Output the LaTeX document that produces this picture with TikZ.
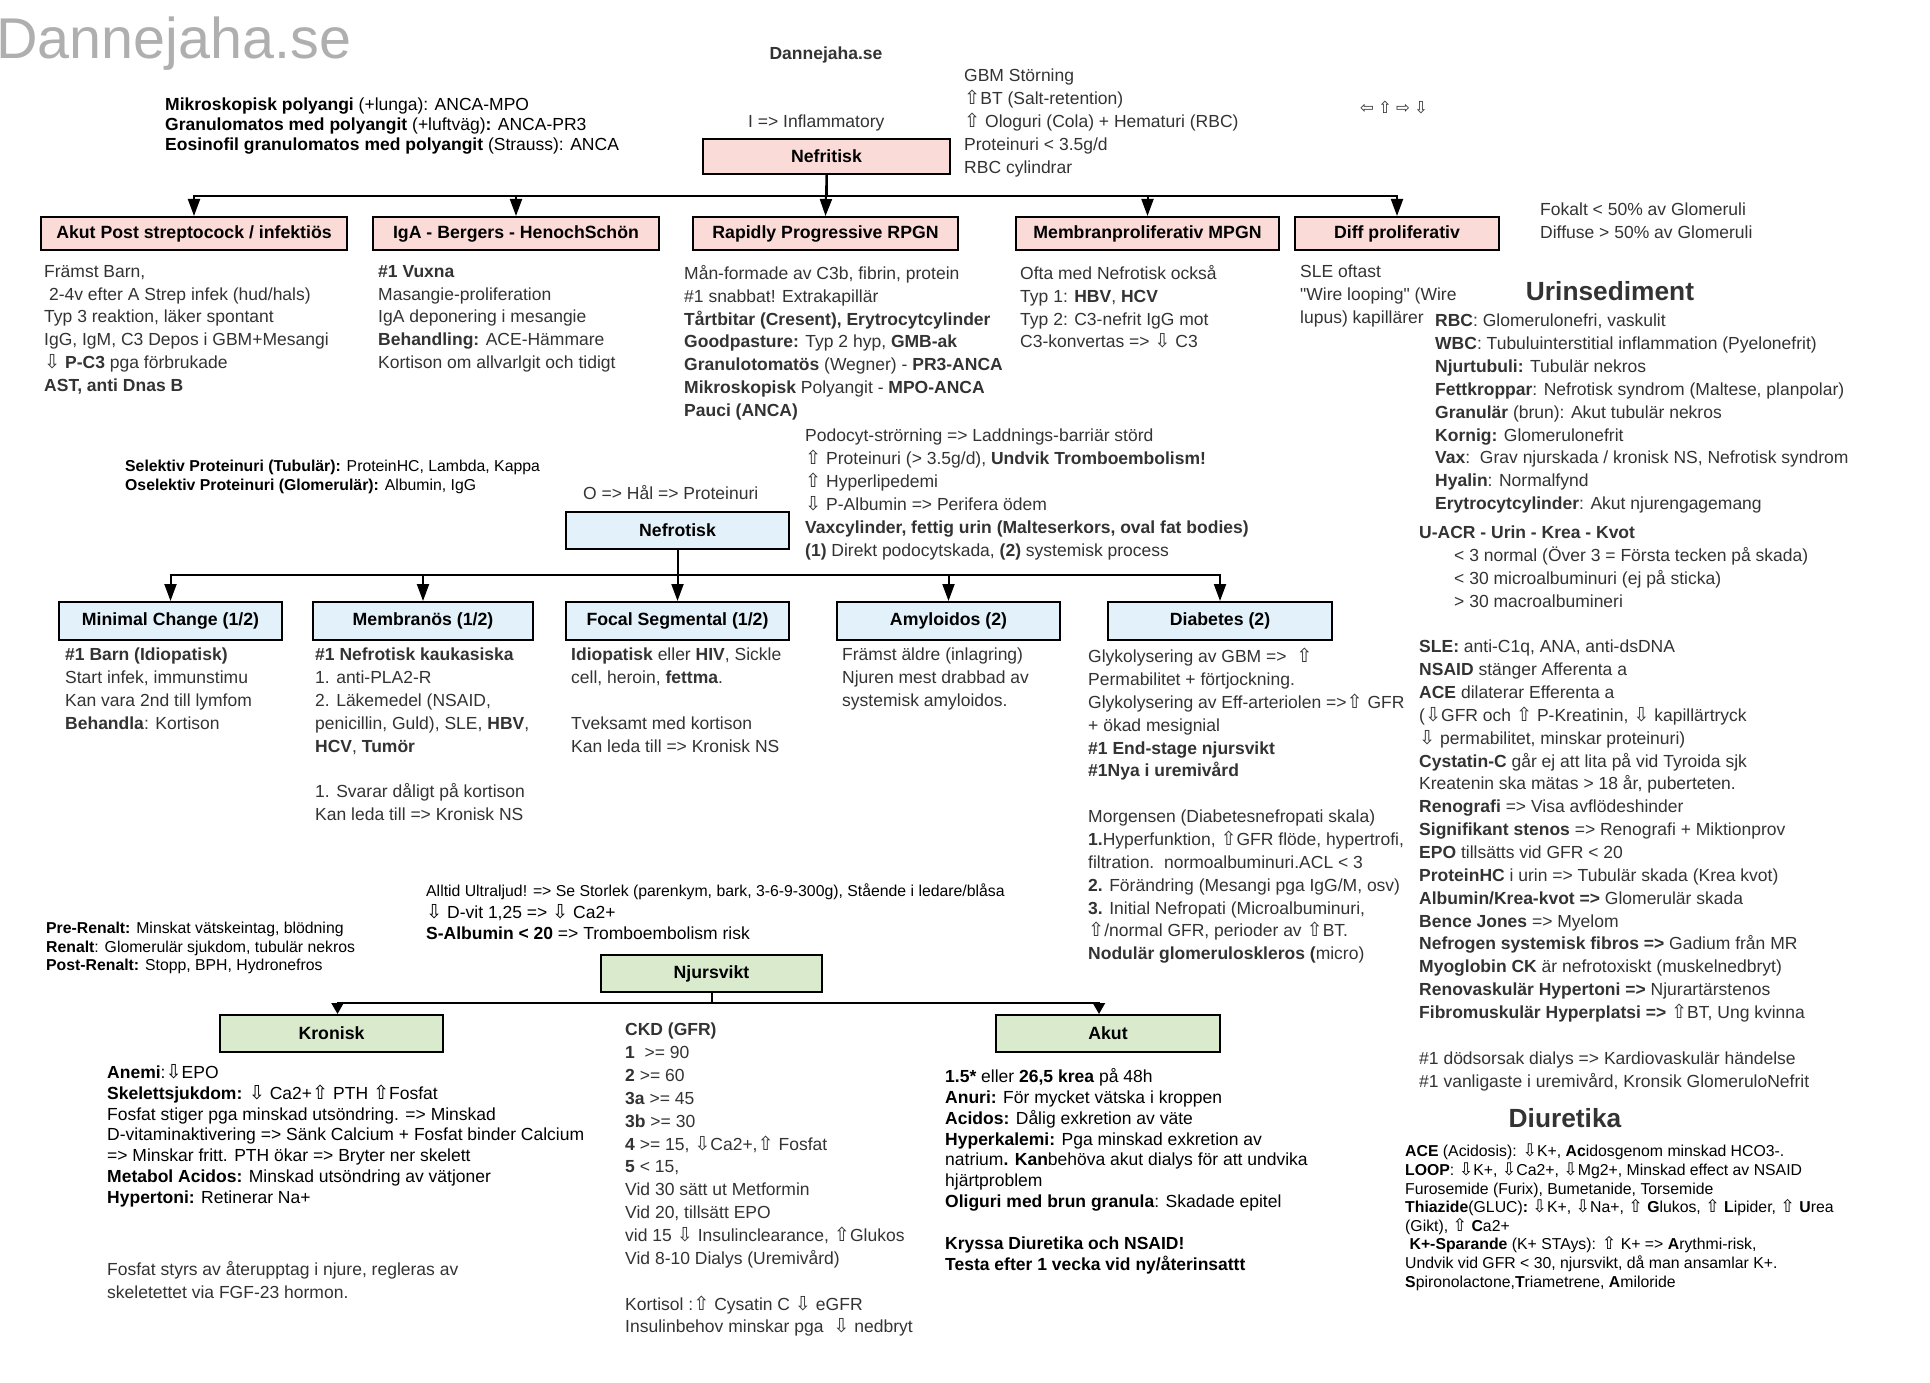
\documentclass[tikz,border=0pt]{standalone}
\usepackage{fontspec}
\setmainfont{Liberation Sans}
\newfontfamily\symf{DejaVu Sans}[Scale=1.1]
\newfontfamily\qf{Liberation Sans}[Ligatures=ResetAll]
\usetikzlibrary{arrows.meta}
\definecolor{txt}{HTML}{333333}
\definecolor{pinkf}{HTML}{FADBD8}
\definecolor{bluef}{HTML}{E3F1FA}
\definecolor{greenf}{HTML}{D9EBCC}
\definecolor{wmark}{HTML}{AFAFAF}
\newcommand\ArU{{\symf ⇧}}
\newcommand\ArD{{\symf ⇩}}
\newcommand\ArL{{\symf ⇦}}
\newcommand\ArR{{\symf ⇨}}
\newcommand\dq{{\qf\symbol{34}}}
\tikzset{
  hbox/.style={draw=black, line width=2pt, inner sep=0pt, text=black,
    font=\bfseries\fontsize{17.7}{21}\selectfont},
  pinkb/.style={hbox, fill=pinkf},
  blueb/.style={hbox, fill=bluef},
  greenb/.style={hbox, fill=greenf},
  body/.style={anchor=north west, align=left, inner sep=0pt, text=txt,
    font=\fontsize{17.5}{22.85}\selectfont},
  bodyk/.style={anchor=north west, align=left, inner sep=0pt, text=black,
    font=\fontsize{17.5}{20.9}\selectfont},
  small/.style={anchor=north west, align=left, inner sep=0pt, text=black,
    font=\fontsize{15.8}{18.6}\selectfont},
  single/.style={anchor=base west, inner sep=0pt, text=txt,
    font=\fontsize{17.5}{21}\selectfont},
  bigtitle/.style={anchor=base, inner sep=0pt, text=txt,
    font=\bfseries\fontsize{26.3}{30}\selectfont},
  arr/.style={line width=2pt, -{Triangle[length=17pt,width=12pt]}},
  arrs/.style={line width=2pt, -{Triangle[length=11pt,width=12pt]}},
}
\begin{document}
\begin{tikzpicture}[x=1pt,y=-1pt]
\fill[white] (0,0) rectangle (1930,1383);
\useasboundingbox (0,0) rectangle (1930,1383);

% ---------- header ----------
\node[anchor=base west, inner sep=0pt, text=wmark, font=\fontsize{57.5}{62}\selectfont] (wm) at (-4,59) {Dannejaha.se};
\node[anchor=base, inner sep=0pt, text=txt, font=\bfseries\fontsize{17.5}{21}\selectfont] (site) at (826,60) {Dannejaha.se};
\node[anchor=north west, align=left, inner sep=0pt, text=black, font=\fontsize{17.5}{19.7}\selectfont] (mikro) at (165,98) {%
\textbf{Mikroskopisk polyangi} (+lunga): ANCA-MPO\\
\textbf{Granulomatos med polyangit} (+luftväg)\textbf{:} ANCA-PR3\\
\textbf{Eosinofil granulomatos med polyangit} (Strauss): ANCA};
\node[single] (infl) at (748,128) {I => Inflammatory};
\node[body] (gbm) at (964,69) {%
GBM Störning\\
\ArU BT (Salt-retention)\\
\ArU\ Ologuri (Cola) + Hematuri (RBC)\\
Proteinuri < 3.5g/d\\
RBC cylindrar};
\node[anchor=base west, inner sep=0pt, text=txt, font=\fontsize{15}{18}\selectfont] (arrs) at (1360,114) {\ArL\ \ArU\ \ArR\ \ArD};

% ---------- Nefritisk ----------
\node[pinkb, minimum width=247pt, minimum height=35pt] (nefritisk) at (826.5,156.5) {Nefritisk};
\coordinate (nfbus) at (0,196);
\node[pinkb, minimum width=306pt, minimum height=33pt] (akutpost) at (194,233.5) {Akut Post streptocock / infektiös};
\node[pinkb, minimum width=286pt, minimum height=33pt] (iga) at (516,233.5) {IgA - Bergers - HenochSchön};
\node[pinkb, minimum width=265pt, minimum height=33pt] (rpgn) at (825.5,233.5) {Rapidly Progressive RPGN};
\node[pinkb, minimum width=263pt, minimum height=33pt] (mpgn) at (1147.5,233.5) {Membranproliferativ MPGN};
\node[pinkb, minimum width=204pt, minimum height=33pt] (diff) at (1397,233.5) {Diff proliferativ};
\foreach \c in {akutpost,iga,mpgn,diff}
  \draw[arr] (nefritisk.south) |- (\c.north |- nfbus) -- (\c.north);
\draw[arr] (nefritisk.south) -- (rpgn.north);

\node[body] (fokalt) at (1540,203) {Fokalt < 50\% av Glomeruli\\Diffuse > 50\% av Glomeruli};

\node[body] (akutpostt) at (44,265) {%
Främst Barn,\\
\ 2-4v efter A Strep infek (hud/hals)\\
Typ 3 reaktion, läker spontant\\
IgG, IgM, C3 Depos i GBM+Mesangi\\
\ArD\ \textbf{P-C3} pga förbrukade\\
\textbf{AST, anti Dnas B}};
\node[body] (igat) at (378,265) {%
\textbf{\#1 Vuxna}\\
Masangie-proliferation\\
IgA deponering i mesangie\\
\textbf{Behandling:} ACE-Hämmare\\
Kortison om allvarlgit och tidigt};
\node[body] (rpgnt) at (684,265) {%
Mån-formade av C3b, fibrin, protein\\
\#1 snabbat! Extrakapillär\\
\textbf{Tårtbitar (Cresent), Erytrocytcylinder}\\
\textbf{Goodpasture:} Typ 2 hyp, \textbf{GMB-ak}\\
\textbf{Granulotomatös} (Wegner) - \textbf{PR3-ANCA}\\
\textbf{Mikroskopisk} Polyangit - \textbf{MPO-ANCA}\\
\textbf{Pauci (ANCA)}};
\node[body] (mpgnt) at (1020,265) {%
Ofta med Nefrotisk också\\
Typ 1: \textbf{HBV}, \textbf{HCV}\\
Typ 2: C3-nefrit IgG mot\\
C3-konvertas => \ArD\ C3};
\node[body] (difft) at (1300,265) {%
SLE oftast\\
\dq Wire looping\dq\ (Wire\\
lupus) kapillärer};

% ---------- right column ----------
\node[bigtitle] (urintitle) at (1610,300) {Urinsediment};
\node[body] (urin) at (1435,314) {%
\textbf{RBC}: Glomerulonefri, vaskulit\\
\textbf{WBC}: Tubuluinterstitial inflammation (Pyelonefrit)\\
\textbf{Njurtubuli:} Tubulär nekros\\
\textbf{Fettkroppar}: Nefrotisk syndrom (Maltese, planpolar)\\
\textbf{Granulär} (brun): Akut tubulär nekros\\
\textbf{Kornig:} Glomerulonefrit\\
\textbf{Vax}:\ \ Grav njurskada / kronisk NS, Nefrotisk syndrom\\
\textbf{Hyalin}: Normalfynd\\
\textbf{Erytrocytcylinder}: Akut njurengagemang};
\node[body] (uacr) at (1419,526) {%
\textbf{U-ACR - Urin - Krea - Kvot}\\
\hspace*{35pt}< 3 normal (Över 3 = Första tecken på skada)\\
\hspace*{35pt}< 30 microalbuminuri (ej på sticka)\\
\hspace*{35pt}> 30 macroalbumineri};
\node[body] (sle) at (1419,640) {%
\textbf{SLE:} anti-C1q, ANA, anti-dsDNA\\
\textbf{NSAID} stänger Afferenta a\\
\textbf{ACE} dilaterar Efferenta a\\
(\ArD GFR och \ArU\ P-Kreatinin, \ArD\ kapillärtryck\\
\ArD\ permabilitet, minskar proteinuri)\\
\textbf{Cystatin-C} går ej att lita på vid Tyroida sjk\\
Kreatenin ska mätas > 18 år, puberteten.\\
\textbf{Renografi} => Visa avflödeshinder\\
\textbf{Signifikant stenos} => Renografi + Miktionprov\\
\textbf{EPO} tillsätts vid GFR < 20\\
\textbf{ProteinHC} i urin => Tubulär skada (Krea kvot)\\
\textbf{Albumin/Krea-kvot =>} Glomerulär skada\\
\textbf{Bence Jones} => Myelom\\
\textbf{Nefrogen systemisk fibros =>} Gadium från MR\\
\textbf{Myoglobin CK} är nefrotoxiskt (muskelnedbryt)\\
\textbf{Renovaskulär Hypertoni =>} Njurartärstenos\\
\textbf{Fibromuskulär Hyperplatsi =>} \ArU BT, Ung kvinna};
\node[body] (dods) at (1419,1052) {%
\#1 dödsorsak dialys => Kardiovaskulär händelse\\
\#1 vanligaste i uremivård, Kronsik GlomeruloNefrit};
\node[bigtitle] (diurtitle) at (1565,1127) {Diuretika};
\node[small] (diur) at (1405,1144) {%
\textbf{ACE} (Acidosis): \ArD K+, \textbf{Ac}idosgenom minskad HCO3-.\\
\textbf{LOOP}: \ArD K+, \ArD Ca2+, \ArD Mg2+, Minskad effect av NSAID\\
Furosemide (Furix), Bumetanide, Torsemide\\
\textbf{Thiazide}(GLUC)\textbf{:} \ArD K+, \ArD Na+, \ArU\ \textbf{G}lukos, \ArU\ \textbf{L}ipider, \ArU\ \textbf{U}rea\\
(Gikt), \ArU\ \textbf{C}a2+\\
\ \textbf{K+-Sparande} (K+ STAys): \ArU\ K+ => \textbf{A}rythmi-risk,\\
Undvik vid GFR < 30, njursvikt, då man ansamlar K+.\\
\textbf{S}pironolactone,\textbf{T}riametrene, \textbf{A}miloride};

% ---------- Nefrotisk ----------
\node[small] (selektiv) at (125,460) {%
\textbf{Selektiv Proteinuri (Tubulär):} ProteinHC, Lambda, Kappa\\
\textbf{Oselektiv Proteinuri (Glomerulär):} Albumin, IgG};
\node[single] (hal) at (583,499) {O => Hål => Proteinuri};
\node[body] (podocyt) at (805,429) {%
Podocyt-strörning => Laddnings-barriär störd\\
\ArU\ Proteinuri (> 3.5g/d), \textbf{Undvik Tromboembolism!}\\
\ArU\ Hyperlipedemi\\
\ArD\ P-Albumin => Perifera ödem\\
\textbf{Vaxcylinder, fettig urin (Malteserkors, oval fat bodies)}\\
\textbf{(1)} Direkt podocytskada, \textbf{(2)} systemisk process};
\node[blueb, minimum width=223pt, minimum height=37pt] (nefrotisk) at (677.5,530.5) {Nefrotisk};
\coordinate (nebus) at (0,575);
\node[blueb, minimum width=223pt, minimum height=38pt] (minimal) at (170.5,621) {Minimal Change (1/2)};
\node[blueb, minimum width=220pt, minimum height=38pt] (membranos) at (423,621) {Membranös (1/2)};
\node[blueb, minimum width=223pt, minimum height=38pt] (focal) at (677.5,621) {Focal Segmental (1/2)};
\node[blueb, minimum width=223pt, minimum height=38pt] (amyloidos) at (948.5,621) {Amyloidos (2)};
\node[blueb, minimum width=224pt, minimum height=38pt] (diabetes) at (1220,621) {Diabetes (2)};
\foreach \c in {minimal,membranos,amyloidos,diabetes}
  \draw[arr] (nefrotisk.south) |- (\c.north |- nebus) -- (\c.north);
\draw[arr] (nefrotisk.south) -- (focal.north);

\node[body] (minimalt) at (65,648) {%
\textbf{\#1 Barn (Idiopatisk)}\\
Start infek, immunstimu\\
Kan vara 2nd till lymfom\\
\textbf{Behandla}: Kortison};
\node[body] (membranost) at (315,648) {%
\textbf{\#1 Nefrotisk kaukasiska}\\
1. anti-PLA2-R\\
2. Läkemedel (NSAID,\\
penicillin, Guld), SLE, \textbf{HBV},\\
\textbf{HCV}, \textbf{Tumör}\\
\mbox{}\\
1. Svarar dåligt på kortison\\
Kan leda till => Kronisk NS};
\node[body] (focalt) at (571,648) {%
\textbf{Idiopatisk} eller \textbf{HIV}, Sickle\\
cell, heroin, \textbf{fettma}.\\
\mbox{}\\
Tveksamt med kortison\\
Kan leda till => Kronisk NS};
\node[body] (amyloidost) at (842,648) {%
Främst äldre (inlagring)\\
Njuren mest drabbad av\\
systemisk amyloidos.};
\node[body] (diabetest) at (1088,648) {%
Glykolysering av GBM =>\ \ \ArU\\
Permabilitet + förtjockning.\\
Glykolysering av Eff-arteriolen =>\ArU\ GFR\\
+ ökad mesignial\\
\textbf{\#1 End-stage njursvikt}\\
\textbf{\#1Nya i uremivård}\\
\mbox{}\\
Morgensen (Diabetesnefropati skala)\\
\textbf{1.}Hyperfunktion, \ArU GFR flöde, hypertrofi,\\
filtration.\ \ normoalbuminuri.ACL < 3\\
\textbf{2.} Förändring (Mesangi pga IgG/M, osv)\\
\textbf{3.} Initial Nefropati (Microalbuminuri,\\
\ArU/normal GFR, perioder av \ArU BT.\\
\textbf{Nodulär glomeruloskleros (}micro)};

% ---------- Njursvikt ----------
\node[small] (alltid) at (426,884) {Alltid Ultraljud! => Se Storlek (parenkym, bark, 3-6-9-300g), Stående i ledare/blåsa};
\node[anchor=north west, align=left, inner sep=0pt, text=black, font=\fontsize{17.5}{21.5}\selectfont] (dvit) at (426,904) {%
\ArD\ D-vit 1,25 => \ArD\ Ca2+\\
\textbf{S-Albumin < 20} => Tromboembolism risk};
\node[small] (prerenalt) at (46,922) {%
\textbf{Pre-Renalt:} Minskat vätskeintag, blödning\\
\textbf{Renalt}: Glomerulär sjukdom, tubulär nekros\\
\textbf{Post-Renalt:} Stopp, BPH, Hydronefros};
\node[greenb, minimum width=221pt, minimum height=37pt] (njursvikt) at (711.5,973.5) {Njursvikt};
\coordinate (njbus) at (0,1003);
\node[greenb, minimum width=223pt, minimum height=37pt] (kronisk) at (331.5,1033.5) {Kronisk};
\node[greenb, minimum width=224pt, minimum height=37pt] (akut) at (1108,1033.5) {Akut};
\draw[arrs] (njursvikt.south) |- ([xshift=6pt]kronisk.north |- njbus) -- ([xshift=6pt]kronisk.north);
\draw[arrs] (njursvikt.south) |- ([xshift=-9pt]akut.north |- njbus) -- ([xshift=-9pt]akut.north);

\node[bodyk] (kronistt) at (107,1064) {%
\textbf{Anemi}:\ArD EPO\\
\textbf{Skelettsjukdom:} \ArD\ Ca2+\ArU\ PTH \ArU Fosfat\\
Fosfat stiger pga minskad utsöndring. => Minskad\\
D-vitaminaktivering => Sänk Calcium + Fosfat binder Calcium\\
=> Minskar fritt. PTH ökar => Bryter ner skelett\\
\textbf{Metabol Acidos:} Minskad utsöndring av vätjoner\\
\textbf{Hypertoni:} Retinerar Na+};
\node[body] (fosfat) at (107,1261) {%
Fosfat styrs av återupptag i njure, regleras av\\
skeletettet via FGF-23 hormon.};
\node[body] (ckd) at (625,1023) {%
\textbf{CKD (GFR)}\\
\textbf{1}\ \ >= 90\\
\textbf{2} >= 60\\
\textbf{3a} >= 45\\
\textbf{3b} >= 30\\
\textbf{4} >= 15, \ArD Ca2+,\ArU\ Fosfat\\
\textbf{5} < 15,\\
Vid 30 sätt ut Metformin\\
Vid 20, tillsätt EPO\\
vid 15 \ArD\ Insulinclearance, \ArU Glukos\\
Vid 8-10 Dialys (Uremivård)\\
\mbox{}\\
Kortisol :\ArU\ Cysatin C \ArD\ eGFR\\
Insulinbehov minskar pga\ \ \ArD\ nedbryt};
\node[bodyk] (akutt) at (945,1068) {%
\textbf{1.5*} eller \textbf{26,5 krea} på 48h\\
\textbf{Anuri:} För mycket vätska i kroppen\\
\textbf{Acidos:} Dålig exkretion av väte\\
\textbf{Hyperkalemi:} Pga minskad exkretion av\\
natrium\textbf{. Kan}behöva akut dialys för att undvika\\
hjärtproblem\\
\textbf{Oliguri med brun granula}: Skadade epitel\\
\mbox{}\\
\textbf{Kryssa Diuretika och NSAID!}\\
\textbf{Testa efter 1 vecka vid ny/återinsattt}};
\end{tikzpicture}
\end{document}
